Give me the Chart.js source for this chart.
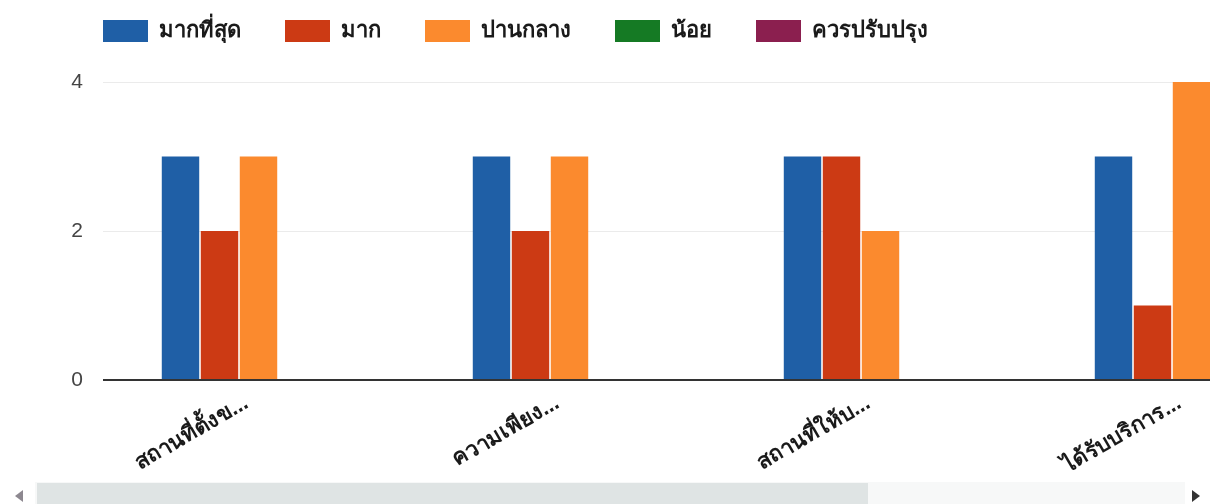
<!DOCTYPE html>
<html>
<head>
<meta charset="utf-8">
<script src="https://cdn.jsdelivr.net/npm/chart.js@4.4.0/dist/chart.umd.min.js"></script>
<style>
  html, body { margin: 0; padding: 0; background: #fff; }
  #wrap { position: relative; width: 1210px; height: 504px; overflow: hidden; }
  #box { position: absolute; left: 0; top: 0; width: 1360px; height: 480px; }
  #track { position: absolute; left: 35px; top: 482px; width: 1150px; height: 22px; background: #f7f8f8; }
  #thumb { position: absolute; left: 37px; top: 483px; width: 831px; height: 21px; background: #dfe4e4; }
  .arr { position: absolute; top: 490px; width: 0; height: 0; border-top: 6px solid transparent; border-bottom: 6px solid transparent; }
  #aleft { left: 15px; border-right: 8px solid #8d8890; }
  #aright { left: 1192px; border-left: 8px solid #333; }
</style>
</head>
<body>
<div id="wrap">
  <div id="box"><canvas id="chart"></canvas></div>
  <div id="track"></div>
  <div id="thumb"></div>
  <div class="arr" id="aleft"></div>
  <div class="arr" id="aright"></div>
</div>
<script>
const categories = ["สถานที่ตั้งข...", "ความเพียง...", "สถานที่ให้บ...", "ได้รับบริการ..."];
const seriesNames = ["มากที่สุด", "มาก", "ปานกลาง", "น้อย", "ควรปรับปรุง"];
const mostValues = [3, 3, 3, 3];
const muchValues = [2, 2, 3, 1];
const midValues = [3, 3, 2, 4];
const lowValues = [0, 0, 0, 0];
const improveValues = [0, 0, 0, 0];
const yTicks = [0, 2, 4];

const colors = ["#1f5fa6", "#cc3a14", "#fb8a2e", "#157a24", "#8b1f4f"];
const allValues = [mostValues, muchValues, midValues, lowValues, improveValues];

const fontFamily = "'Liberation Sans', Arial, 'Noto Sans', sans-serif";

// make the legend block taller so the plot starts lower
const legendHeight = {
  id: "legendHeight",
  afterInit(chart) {
    const orig = chart.legend.fit;
    chart.legend.fit = function () {
      orig.call(this);
      this.height += 30;
    };
  },
};

const ctx = document.getElementById("chart");
new Chart(ctx, {
  type: "bar",
  data: {
    labels: categories,
    datasets: seriesNames.map((name, i) => ({
      label: name,
      data: allValues[i],
      backgroundColor: colors[i],
      borderWidth: 0,
      categoryPercentage: 0.627,
      barPercentage: 0.96,
    })),
  },
  plugins: [legendHeight],
  options: {
    responsive: true,
    maintainAspectRatio: false,
    animation: false,
    layout: {
      padding: { left: 59, top: -24, right: 13, bottom: 0 },
    },
    plugins: {
      tooltip: { enabled: false },
      legend: {
        position: "top",
        align: "start",
        labels: {
          boxWidth: 45,
          boxHeight: 22,
          padding: 44,
          color: "#1a1a1a",
          font: { family: fontFamily, size: 22, weight: "bold" },
        },
      },
    },
    scales: {
      x: {
        grid: { display: false, drawTicks: false },
        border: { display: false },
        afterFit: (s) => { s.height = 100; },
        ticks: {
          autoSkip: false,
          minRotation: 30,
          maxRotation: 30,
          padding: 10,
          labelOffset: -12,
          color: "#1a1a1a",
          font: { family: fontFamily, size: 22, weight: "bold" },
        },
      },
      y: {
        min: 0,
        max: 4,
        afterFit: (s) => { s.width = 44; },
        afterBuildTicks: (s) => { s.ticks = yTicks.map((v) => ({ value: v })); },
        border: { display: false },
        grid: {
          drawTicks: false,
          color: (c) => (c.tick && c.tick.value === 0 ? "#333" : "#ebebeb"),
          lineWidth: (c) => (c.tick && c.tick.value === 0 ? 2 : 1),
        },
        ticks: {
          padding: 20,
          color: "#444",
          font: { family: fontFamily, size: 21 },
        },
      },
    },
  },
});
</script>
</body>
</html>
